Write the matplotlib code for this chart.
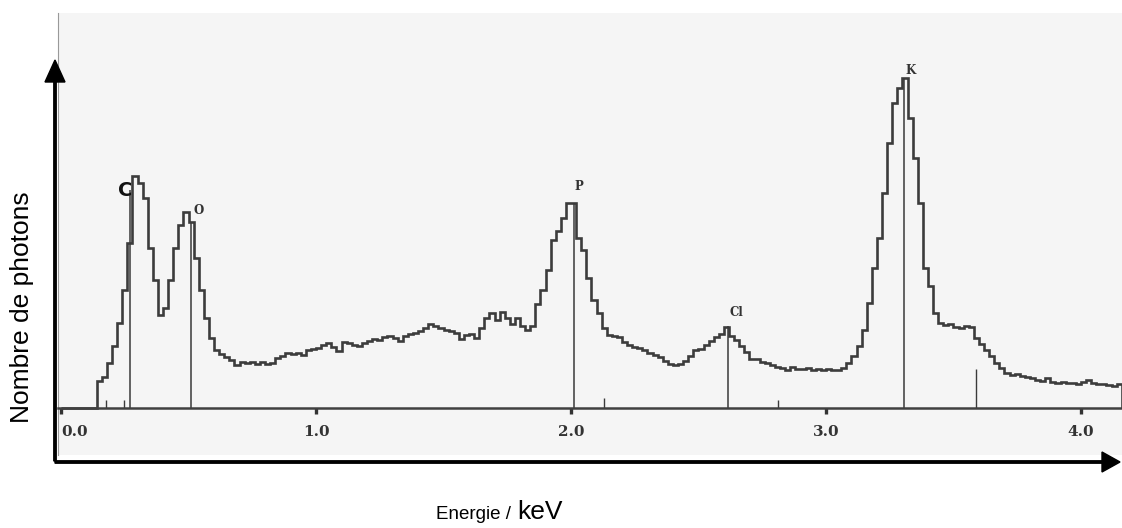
import numpy as np
import matplotlib
matplotlib.use('Agg')
import matplotlib.pyplot as plt

# spectre EDX : nombre de coups par canal (canaux de 0.02 keV, a partir de 0.00 keV)
canal = 0.02
coups_0 = [0, 0, 0, 0, 0, 0, 0, 27, 31, 45, 62, 85, 118, 165, 232, 225, 210, 160, 128, 93,
           100, 128, 160, 183, 196, 186, 150, 118, 90, 70, 58, 54, 51, 48, 43, 46, 45]
coups_1 = [46, 44, 46, 44, 45, 50, 52, 55, 54, 55, 53, 58, 59, 60, 63, 65, 61, 57, 66, 65,
           63, 62, 65, 67, 69, 68, 71, 72, 70, 67, 72, 74, 75, 77, 80, 84, 82, 80, 78, 77,
           75, 69, 73, 74, 70, 80, 90, 95, 88, 96, 90, 84, 90, 82, 78, 82]
coups_2 = [104, 118, 138, 168, 177, 190, 205, 205, 170, 158, 130, 108, 95, 80, 73, 72, 71, 66,
           63, 61, 60, 58, 55, 53, 51, 47, 44, 43, 44, 47, 52, 58, 59, 63, 67, 71, 74, 81,
           72, 68, 62, 56, 49, 49, 46, 45, 43, 41, 40, 38, 41, 39, 39, 40, 38, 39, 38, 39, 38]
coups_3 = [38, 40, 45, 52, 62, 78, 105, 140, 170, 215, 265, 305, 320, 330, 290, 250, 205, 140,
           122, 95, 85, 83, 84, 81, 80, 82, 81, 70, 64, 58, 52, 45, 40, 35, 33, 34, 32, 31,
           30, 28, 27, 30, 26, 25, 26, 25, 25, 24, 26, 28, 25, 24, 24, 23, 22, 24]
coups = np.array(coups_0 + coups_1 + coups_2 + coups_3)
bords = np.arange(len(coups) + 1) * canal

# raies identifiees
elements = ['C', 'O', 'P', 'Cl', 'K']
raies_E = [0.27, 0.51, 2.01, 2.615, 3.306]
raies_h = [218, 185, 205, 82, 330]
# petits marqueurs
marq_E = [0.175, 0.247, 2.13, 2.81, 3.59]
marq_h = [8, 8, 10, 8, 39]

ticks = [0, 1, 2, 3, 4]
tick_labels = ['0.0', '1.0', '2.0', '3.0', '4.0']

W, H = 1122, 528
fig = plt.figure(figsize=(W / 100, H / 100), dpi=100)
fig.patch.set_facecolor('white')

# zone du spectre (image scannee)
ax = fig.add_axes([58 / W, 1 - 455 / H, (1122 - 58) / W, (455 - 13) / H])
ax.set_facecolor('#f5f5f5')
ax.stairs(coups, bords, color='#3c3c3c', lw=1.9)
ax.vlines(raies_E, 0, raies_h, color='#3a3a3a', lw=1.1)
ax.vlines(marq_E, 0, marq_h, color='#3a3a3a', lw=1.0)
ax.set_xlim(-0.012, 4.161)
ax.set_ylim(-47, 395)

for s in ['top', 'right']:
    ax.spines[s].set_visible(False)
ax.spines['left'].set_color('#999999')
ax.spines['left'].set_linewidth(0.8)
ax.spines['bottom'].set_position(('data', 0))
ax.spines['bottom'].set_color('#404040')
ax.spines['bottom'].set_linewidth(1.8)
ax.set_yticks([])
ax.set_xticks(ticks)
ax.set_xticklabels(tick_labels, fontfamily='DejaVu Serif', fontweight='bold',
                   fontsize=11, color='#333333')
ax.tick_params(axis='x', direction='out', length=4.5, width=2.4, color='#333333', pad=8)
ax.get_xticklabels()[0].set_horizontalalignment('left')

# etiquettes des elements
ax.text(0.25, 217, 'C', fontfamily='DejaVu Sans', fontweight='bold', fontsize=14,
        ha='center', va='center', color='#111111')
lab_E = [0.54, 2.03, 2.65, 3.33]
lab_h = [197, 222, 95, 338]
for nom, e, h in zip(elements[1:], lab_E, lab_h):
    ax.text(e, h, nom, fontfamily='DejaVu Serif', fontweight='bold', fontsize=8.5,
            ha='center', va='center', color='#333333')

# fleches des axes et titres (coordonnees en pixels)
ov = fig.add_axes([0, 0, 1, 1])
ov.set_xlim(0, W)
ov.set_ylim(H, 0)
ov.axis('off')
ov.patch.set_alpha(0)
ov.arrow(55, 461, 0, -401, width=2.4, head_width=20, head_length=22,
         length_includes_head=True, color='black')
ov.arrow(55, 462, 1065, 0, width=2.4, head_width=20, head_length=18,
         length_includes_head=True, color='black')
ov.text(22, 307, 'Nombre de photons', rotation=90, fontfamily='Liberation Sans',
        fontsize=19, ha='center', va='center')
ov.text(511, 519, 'Energie /', fontfamily='Liberation Sans', fontsize=13.5,
        ha='right', va='baseline')
ov.text(517, 519, 'keV', fontfamily='Liberation Sans', fontsize=19,
        ha='left', va='baseline')

fig.savefig('out.png', dpi=100)
